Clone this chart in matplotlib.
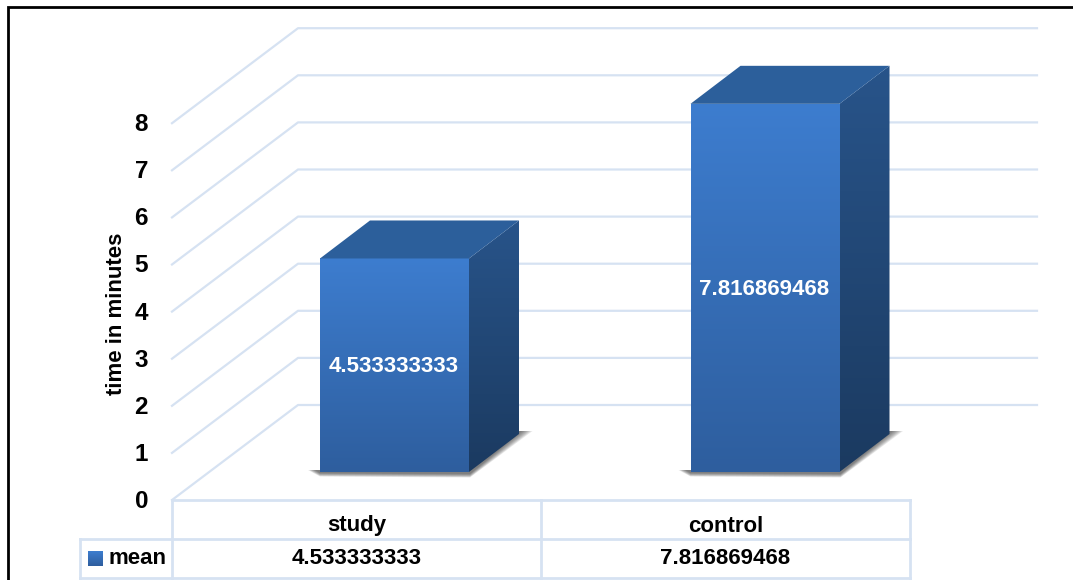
import numpy as np
import matplotlib
matplotlib.use("Agg")
import matplotlib.pyplot as plt
from matplotlib.colors import LinearSegmentedColormap
from matplotlib.patches import Polygon

categories = ["study", "control"]
means = [4.533333333, 7.816869468]
mean_labels = ["4.533333333", "7.816869468"]
y_ticks = [0, 1, 2, 3, 4, 5, 6, 7, 8]
y_label = "time in minutes"
series_name = "mean"

# layout in pixels
W, H = 1073, 580
X0, Y0 = 172, 500       # front corner of the value axis
UNIT = 47.1             # pixels per minute
DEPTH_X, DEPTH_Y = 126, -95
GRID_END = 1037
TABLE_R = 910
CAT_W = (TABLE_R - X0) / 2
BAR_STEP = 370.5
BAR_W = 149
BAR_DX, BAR_DY = 148, -28
SIDE_DX, SIDE_DY = 50, -38
GRID_C = "#d6e2f2"

plt.rcParams["font.family"] = ["Liberation Sans", "DejaVu Sans"]
plt.rcParams["font.weight"] = "bold"

fig = plt.figure(figsize=(W / 100, H / 100), dpi=100, facecolor="white")
ax = fig.add_axes([0, 0, 1, 1])
ax.set_xlim(0, W)
ax.set_ylim(H, 0)
ax.axis("off")

# outer frame, only top and left are visible
ax.plot([8, 8, W], [H, 7, 7], color="black", lw=2, solid_joinstyle="miter")


def val_y(v):
    return Y0 - v * UNIT


# gridlines on the wall and floor
for t in y_ticks:
    y = val_y(t)
    ax.plot([X0, X0 + DEPTH_X, GRID_END], [y, y + DEPTH_Y, y + DEPTH_Y],
            color=GRID_C, lw=1.6, zorder=1)
    ax.text(148, y + 1.5, str(t), ha="right", va="center", fontsize=17.5, color="black")

ax.text(116, val_y(4.0) + 2, y_label, rotation=90, ha="center", va="center", fontsize=16)


def gradient(poly, c1, c2, x0, x1, y0, y1, zorder):
    cmap = LinearSegmentedColormap.from_list("g", [c1, c2])
    im = ax.imshow(np.linspace(0, 1, 256).reshape(-1, 1), cmap=cmap, aspect="auto",
                   extent=[x0, x1, y1, y0], zorder=zorder, interpolation="bilinear")
    patch = Polygon(poly, closed=True, transform=ax.transData, fc="none", ec="none")
    ax.add_patch(patch)
    im.set_clip_path(patch)


for i, (cat, val, lab) in enumerate(zip(categories, means, mean_labels)):
    left = X0 + BAR_DX + i * BAR_STEP
    right = left + BAR_W
    base = Y0 + BAR_DY
    top = base - val * UNIT

    # soft shadow on the floor, stacked layers fake the blur
    for g in range(1, 9):
        ax.add_patch(Polygon([[left - 13 + g, base - 2], [left, base + 5 - g * 0.5],
                              [right + 1, base + 6 - g * 0.5],
                              [right + SIDE_DX + 15 - g * 1.5, base + SIDE_DY - 3],
                              [right + SIDE_DX - 6, base + SIDE_DY - 3], [right, base - 2]],
                             closed=True, fc="#303030", ec="none", alpha=0.11, zorder=2))

    front = [[left, top], [right, top], [right, base], [left, base]]
    side = [[right, top], [right + SIDE_DX, top + SIDE_DY], [right + SIDE_DX, base + SIDE_DY], [right, base]]
    lid = [[left, top], [left + SIDE_DX, top + SIDE_DY], [right + SIDE_DX, top + SIDE_DY], [right, top]]
    gradient(front, "#3d7dcf", "#2e5e9e", left, right, top, base, 3)
    gradient(side, "#28548a", "#1b3a60", right, right + SIDE_DX, top + SIDE_DY, base, 3)
    ax.add_patch(Polygon(lid, closed=True, fc="#2c5f9b", ec="none", zorder=3))

    ax.text((left + right) / 2 - 1, (top + base) / 2 + 1.5, lab, color="white",
            ha="center", va="center", fontsize=16, zorder=4)

    # data table cells
    cx = X0 + (i + 0.5) * CAT_W
    ax.text(cx, 526, cat, ha="center", va="center", fontsize=16)
    ax.text(cx, 559, lab, ha="center", va="center", fontsize=16)

# data table lines
tbl = dict(color=GRID_C, lw=2, zorder=1)
ax.plot([X0, TABLE_R], [500, 500], **tbl)
ax.plot([80, TABLE_R], [539, 539], **tbl)
ax.plot([80, TABLE_R], [578, 578], **tbl)
ax.plot([80, 80], [539, 578], **tbl)
for x in [X0, X0 + CAT_W, TABLE_R]:
    ax.plot([x, x], [500, 578], **tbl)

# legend key in the table
cmap = LinearSegmentedColormap.from_list("k", ["#3d7dcf", "#2e5e9e"])
ax.imshow(np.linspace(0, 1, 64).reshape(-1, 1), cmap=cmap, aspect="auto",
          extent=[88, 103, 566, 551], zorder=3)
ax.set_xlim(0, W)
ax.set_ylim(H, 0)
ax.text(108, 558, series_name, ha="left", va="center", fontsize=16)

fig.savefig("out.png", dpi=100)
